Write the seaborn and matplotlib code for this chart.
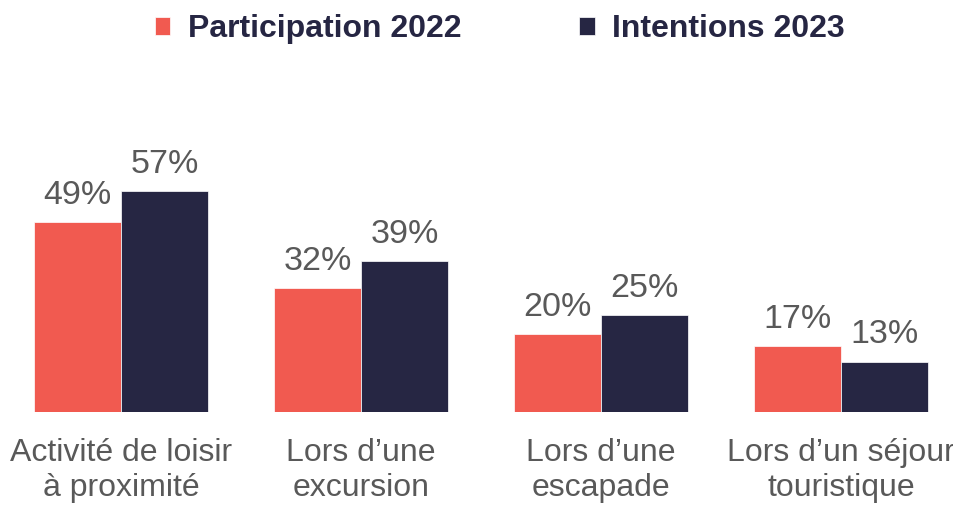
import matplotlib
matplotlib.use("Agg")
import matplotlib.pyplot as plt
import seaborn as sns
import pandas as pd

# data
categories = ["Activité de loisir\nà proximité", "Lors d\u2019une\nexcursion",
              "Lors d\u2019une\nescapade", "Lors d\u2019un séjour\ntouristique"]
participation_2022 = [49, 32, 20, 17]
intentions_2023 = [57, 39, 25, 13]
series_names = ["Participation 2022", "Intentions 2023"]
colors = ["#F15A50", "#262643"]

df = pd.DataFrame({
    "Catégorie": categories * 2,
    "Série": [series_names[0]] * 4 + [series_names[1]] * 4,
    "Valeur": participation_2022 + intentions_2023,
})

sns.set_style("white")
plt.rcParams["font.family"] = ["Liberation Sans", "DejaVu Sans"]

fig = plt.figure(figsize=(9.54, 5.05), dpi=100)
ax = fig.add_axes([0, 93 / 505, 1, 312 / 505])

sns.barplot(data=df, x="Catégorie", y="Valeur", hue="Série",
            palette=colors, width=0.725, saturation=1, ax=ax, legend=True,
            linewidth=0.5, edgecolor="white")

for cont in ax.containers:
    ax.bar_label(cont, fmt="%g%%", padding=8, fontsize=24.5, color="#595959")

ax.set_xlim(-121 / 240, (954 - 121) / 240)
ax.set_ylim(0, 312 / 3.88)
ax.set_xlabel("")
ax.set_ylabel("")
ax.set_yticks([])
ax.tick_params(axis="x", length=0, pad=19, labelsize=23, labelcolor="#595959")
for lbl in ax.get_xticklabels():
    lbl.set_linespacing(1.2)
sns.despine(ax=ax, left=True, bottom=True)

handles, labels = ax.get_legend_handles_labels()
ax.get_legend().remove()
leg = fig.legend(handles, labels, loc="center", bbox_to_anchor=(0.524, 0.942),
                 ncol=2, frameon=False, handlelength=0.48, handleheight=0.48,
                 handletextpad=0.55, columnspacing=3.7,
                 prop={"weight": "bold", "size": 23})
for t in leg.get_texts():
    t.set_color("#262643")

fig.savefig("out.png", dpi=100)
